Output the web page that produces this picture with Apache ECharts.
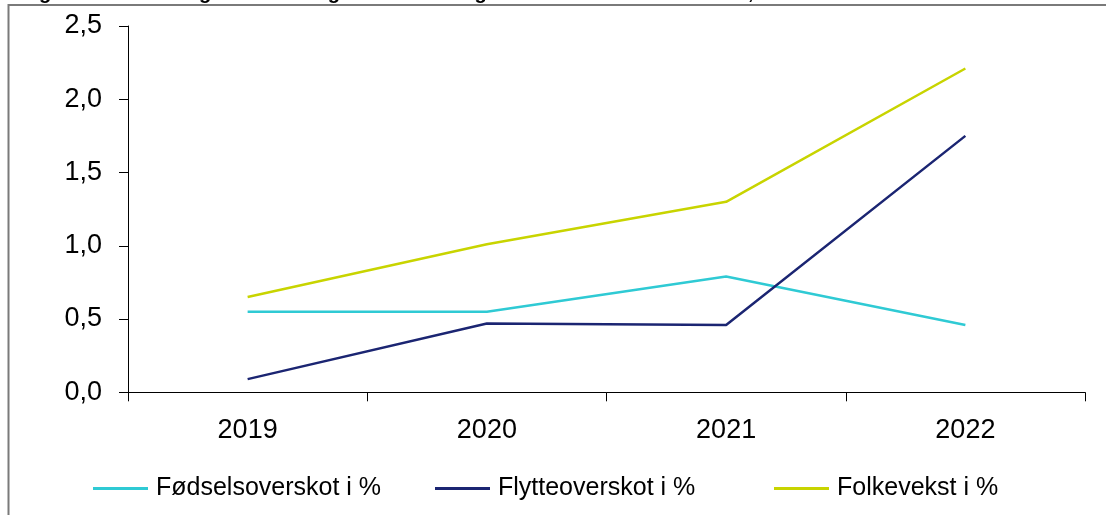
<!DOCTYPE html>
<html>
<head>
<meta charset="utf-8">
<script src="https://cdn.jsdelivr.net/npm/echarts@6/dist/echarts.min.js"></script>
<style>
html,body{margin:0;padding:0;background:#fff;}
#c{width:1106px;height:515px;}
</style>
</head>
<body>
<div id="c"></div>
<script>
const titleText = "Årleg folketalsendring i Vestland og for heile Noreg etter årsak frå 2019 til 2022, i % av folketalet";
const years = ["2019", "2020", "2021", "2022"];
const fodselsoverskot = [0.55, 0.55, 0.79, 0.46];
const flytteoverskot = [0.09, 0.47, 0.46, 1.75];
const folkevekst = [0.65, 1.01, 1.30, 2.21];
const seriesNames = ["Fødselsoverskot i %", "Flytteoverskot i %", "Folkevekst i %"];
const colors = ["#2FCAD4", "#1B2572", "#C8D400"];

const chart = echarts.init(document.getElementById('c'), null, {renderer: 'canvas'});
const font = 'Arial, "Liberation Sans", sans-serif';
const dataSets = [fodselsoverskot, flytteoverskot, folkevekst];
const legendLefts = [93, 435, 774];

chart.setOption({
  animation: false,
  backgroundColor: '#ffffff',
  title: {
    text: titleText,
    left: 0,
    top: -17,
    padding: 0,
    textStyle: {fontFamily: font, fontWeight: 'bold', fontSize: 20, color: '#000'}
  },
  graphic: [{
    type: 'rect',
    silent: true,
    shape: {x: 8.5, y: 5, width: 1200, height: 600},
    style: {fill: 'none', stroke: '#7a7a7a', lineWidth: 2}
  }],
  grid: {left: 128, right: 21, top: 26, bottom: 122.7, containLabel: false},
  legend: seriesNames.map((n, i) => ({
    left: legendLefts[i],
    top: 476,
    padding: 0,
    itemWidth: 55,
    itemHeight: 3,
    icon: 'rect',
    data: [n],
    textStyle: {fontFamily: font, fontSize: 25, color: '#000', padding: [0, 0, 0, 3]}
  })),
  xAxis: {
    type: 'category',
    data: years,
    boundaryGap: true,
    axisLine: {lineStyle: {color: '#000', width: 1}},
    axisTick: {show: true, inside: false, length: 9, lineStyle: {color: '#000'}},
    axisLabel: {fontFamily: font, fontSize: 27, color: '#000', margin: 25},
    splitLine: {show: false}
  },
  yAxis: {
    type: 'value',
    min: 0,
    max: 2.5,
    interval: 0.5,
    axisLine: {show: true, lineStyle: {color: '#000', width: 1}},
    axisTick: {show: true, inside: false, length: 9, lineStyle: {color: '#000'}},
    axisLabel: {
      fontFamily: font, fontSize: 27, color: '#000', margin: 26,
      formatter: v => v.toFixed(1).replace('.', ',')
    },
    splitLine: {show: false}
  },
  series: seriesNames.map((n, i) => ({
    name: n,
    type: 'line',
    data: dataSets[i],
    symbol: 'none',
    smooth: false,
    color: colors[i],
    lineStyle: {color: colors[i], width: 2.5}
  }))
});
</script>
</body>
</html>
